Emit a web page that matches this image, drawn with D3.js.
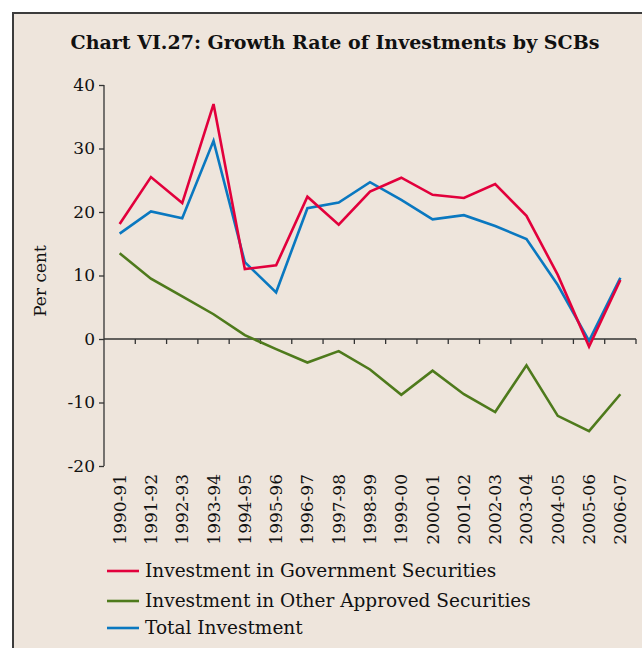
<!DOCTYPE html>
<html><head><meta charset="utf-8">
<script src="https://cdn.jsdelivr.net/npm/d3@7"></script>
<style>html,body{margin:0;padding:0;background:#fff;}</style>
</head><body>
<script>
const categories = ["1990-91","1991-92","1992-93","1993-94","1994-95","1995-96","1996-97","1997-98","1998-99","1999-00","2000-01","2001-02","2002-03","2003-04","2004-05","2005-06","2006-07"];
const govSecurities = [18.1,25.5,21.4,37.0,11.0,11.6,22.4,18.0,23.2,25.4,22.7,22.2,24.4,19.4,10.1,-1.2,9.3];
const otherApproved = [13.5,9.5,6.7,3.9,0.6,-1.6,-3.7,-1.9,-4.8,-8.8,-5.0,-8.7,-11.5,-4.15,-12.1,-14.5,-8.7];
const totalInvestment = [16.6,20.1,19.0,31.2,12.1,7.35,20.6,21.5,24.7,21.9,18.85,19.5,17.8,15.75,8.5,-0.3,9.65];
const yTicks = [40,30,20,10,0,-10,-20];
const seriesNames = ["Investment in Government Securities","Investment in Other Approved Securities","Total Investment"];
const seriesColors = ["#e2003c","#4e7a1c","#0a78c0"];
const seriesData = [govSecurities, otherApproved, totalInvestment];

const W = 642, H = 648;
const svg = d3.select("body").append("svg").attr("width", W).attr("height", H);
svg.append("rect").attr("x",13).attr("y",13).attr("width",W).attr("height",H).attr("fill","#eee5dc").attr("stroke","#3c3c3c").attr("stroke-width",2);

const font = "'DejaVu Serif', serif";
svg.append("text").attr("x",335).attr("y",49).attr("text-anchor","middle")
  .attr("font-family",font).attr("font-weight","bold").attr("font-size",19).attr("fill","#111")
  .text("Chart VI.27: Growth Rate of Investments by SCBs");

const x = d3.scaleBand().domain(categories).range([104,636]);
const y = d3.scaleLinear().domain([-20,40]).range([466,85]);

const yAxis = svg.append("g").attr("transform","translate(104,0)")
  .call(d3.axisLeft(y).tickValues(yTicks).tickSize(5).tickPadding(4).tickFormat(d => String(d)));
yAxis.select(".domain").attr("stroke","#333").attr("stroke-width",1.3).attr("d","M0,85V466");
yAxis.selectAll(".tick line").attr("stroke","#333").attr("stroke-width",1.3);
yAxis.selectAll("text").attr("font-family",font).attr("font-size",17).attr("fill","#111");

const xAxis = svg.append("g").attr("transform",`translate(0,${y(0)})`)
  .call(d3.axisBottom(x).tickSize(5).tickFormat(""));
xAxis.select(".domain").attr("stroke","#333").attr("stroke-width",1.3).attr("d","M104,0H636");
xAxis.selectAll(".tick line").attr("stroke","#333").attr("stroke-width",1.3).attr("transform",`translate(${x.bandwidth()/2},0)`);

svg.append("g").selectAll("text").data(categories).join("text")
  .attr("transform", d => `translate(${x(d)+x.bandwidth()/2+6},474) rotate(-90)`)
  .attr("text-anchor","end").attr("font-family",font).attr("font-size",17).attr("fill","#111")
  .text(d => d);

svg.append("text").attr("transform","translate(46,281) rotate(-90)").attr("text-anchor","middle")
  .attr("font-family",font).attr("font-size",17).attr("fill","#111").text("Per cent");

const line = d3.line().x((d,i)=>x(categories[i])+x.bandwidth()/2).y(d=>y(d));
const drawOrder = [1,2,0];
drawOrder.forEach(k => {
  svg.append("path").datum(seriesData[k]).attr("d",line).attr("fill","none")
    .attr("stroke",seriesColors[k]).attr("stroke-width",2.6).attr("stroke-linejoin","miter");
});

const legY = [571,601,628];
seriesNames.forEach((n,i) => {
  svg.append("line").attr("x1",107).attr("x2",139).attr("y1",legY[i]).attr("y2",legY[i])
    .attr("stroke",seriesColors[i]).attr("stroke-width",2.6);
  svg.append("text").attr("x",145).attr("y",legY[i]+6).attr("font-family",font).attr("font-size",18.5)
    .attr("fill","#111").text(n);
});
</script>
</body></html>
